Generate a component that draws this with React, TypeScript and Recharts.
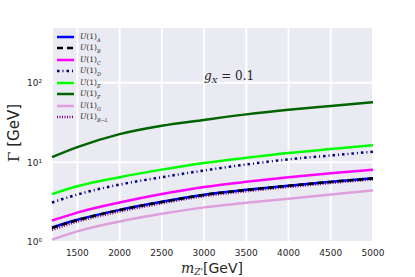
import React from 'react';
import { LineChart, Line, XAxis, YAxis, CartesianGrid, Legend, Customized } from 'recharts';

// Z' mass (GeV) and total width (GeV) for each U(1) model, g_X = 0.1
const masses = [1200, 1500, 2000, 2500, 3000, 3500, 4000, 4500, 5000];
const widthA = [1.52, 1.9, 2.53, 3.2, 3.92, 4.52, 5.1, 5.7, 6.3];
const widthB = [1.5, 1.88, 2.52, 3.18, 3.9, 4.5, 5.08, 5.68, 6.28];
const widthC = [1.86, 2.34, 3.13, 4.0, 4.9, 5.7, 6.5, 7.3, 8.05];
const widthD = [3.13, 3.94, 5.26, 6.5, 7.9, 9.4, 10.9, 12.2, 13.6];
const widthE = [3.99, 5.0, 6.5, 8.1, 9.8, 11.4, 13.1, 14.7, 16.4];
const widthF = [11.6, 15.5, 22.6, 28.8, 34.1, 40.0, 45.6, 51.0, 56.9];
const widthG = [1.07, 1.36, 1.81, 2.26, 2.72, 3.1, 3.5, 3.95, 4.43];
const widthBL = [1.42, 1.8, 2.41, 3.06, 3.76, 4.33, 4.9, 5.5, 6.1];

const xTicks = [1500, 2000, 2500, 3000, 3500, 4000, 4500, 5000];
const yTicks = [1, 10, 100];

const series = [
  { key: 'A', sub: 'A', color: '#0000ff', dash: undefined, values: widthA },
  { key: 'B', sub: 'B', color: '#000000', dash: '6 4', values: widthB },
  { key: 'C', sub: 'C', color: '#ff00ff', dash: undefined, values: widthC },
  { key: 'D', sub: 'D', color: '#000080', dash: '2.5 3 1 3', values: widthD },
  { key: 'E', sub: 'E', color: '#00ff00', dash: undefined, values: widthE },
  { key: 'F', sub: 'F', color: '#006400', dash: undefined, values: widthF },
  { key: 'G', sub: 'G', color: '#dda0dd', dash: undefined, values: widthG },
  { key: 'BL', sub: 'B\u2212L', color: '#800080', dash: '1 1.5', values: widthBL },
];

const data = masses.map((m, i) => {
  const row: Record<string, number> = { m };
  series.forEach((s) => {
    row[s.key] = s.values[i];
  });
  return row;
});

const drawOrder = ['G', 'BL', 'A', 'B', 'C', 'D', 'E', 'F'];

const sup: Record<number, string> = { 1: '\u2070', 10: '\u00b9', 100: '\u00b2' };

const LegendBox = () => (
  <div style={{ fontFamily: 'DejaVu Serif', fontSize: 7.5, color: '#262626' }}>
    {series.map((s) => (
      <div key={s.key} style={{ display: 'flex', alignItems: 'center', height: 11.5 }}>
        <svg width={20} height={6} style={{ marginRight: 4 }}>
          <line x1={1} y1={3} x2={18} y2={3} stroke={s.color} strokeWidth={2.5} strokeDasharray={s.dash} />
        </svg>
        <span>
          <i>U</i>(1)<sub style={{ fontSize: 5, fontStyle: 'italic' }}>{s.sub}</sub>
        </span>
      </div>
    ))}
  </div>
);

const Titles = () => (
  <g fill="#262626">
    <text x={204} y={80} fontFamily="DejaVu Serif" fontSize={12}>
      <tspan fontStyle="italic">g</tspan>
      <tspan fontStyle="italic" fontSize={8} dy={3}>X</tspan>
      <tspan dy={-3}> = 0.1</tspan>
    </text>
    <text x={212} y={273} textAnchor="middle" fontSize={14}>
      <tspan fontFamily="DejaVu Serif" fontStyle="italic">m</tspan>
      <tspan fontFamily="DejaVu Serif" fontStyle="italic" fontSize={9} dy={2}>Z&apos;</tspan>
      <tspan fontFamily="DejaVu Sans" dy={-2}>[GeV]</tspan>
    </text>
    <text x={19} y={133} textAnchor="middle" fontSize={15} transform="rotate(-90 19 133)">
      <tspan fontFamily="DejaVu Serif">Γ</tspan>
      <tspan fontFamily="DejaVu Sans"> [GeV]</tspan>
    </text>
  </g>
);

const App = () => (
  <div style={{ position: 'absolute', left: 0, top: 0, background: '#fff' }}>
    <LineChart width={415} height={277} data={data} margin={{ top: 27, right: 42, bottom: 10, left: 12 }}>
      <CartesianGrid stroke="#ffffff" strokeWidth={2} fill="#eaeaf2" />
      <XAxis
        dataKey="m"
        type="number"
        domain={[1200, 5000]}
        ticks={xTicks}
        tickLine={false}
        axisLine={false}
        height={25}
        tick={{ fontSize: 9, fill: '#262626', fontFamily: 'DejaVu Sans' }}
        tickMargin={2}
      />
      <YAxis
        scale="log"
        domain={[1, 500]}
        ticks={yTicks}
        allowDataOverflow
        tickLine={false}
        axisLine={false}
        width={40}
        tickMargin={4}
        tick={{ fontSize: 9, fill: '#262626', fontFamily: 'DejaVu Sans' }}
        tickFormatter={(v: number) => '10' + sup[v]}
      />
      {drawOrder.map((k) => {
        const s = series.find((x) => x.key === k)!;
        return (
          <Line
            key={k}
            dataKey={k}
            type="monotone"
            stroke={s.color}
            strokeWidth={2.5}
            strokeDasharray={s.dash}
            dot={false}
            isAnimationActive={false}
          />
        );
      })}
      <Legend
        layout="vertical"
        align="center"
        verticalAlign="middle"
        content={<LegendBox />}
        wrapperStyle={{ left: 56, top: 31, width: 80 }}
      />
      <Customized component={Titles} />
    </LineChart>
  </div>
);

export default App;
